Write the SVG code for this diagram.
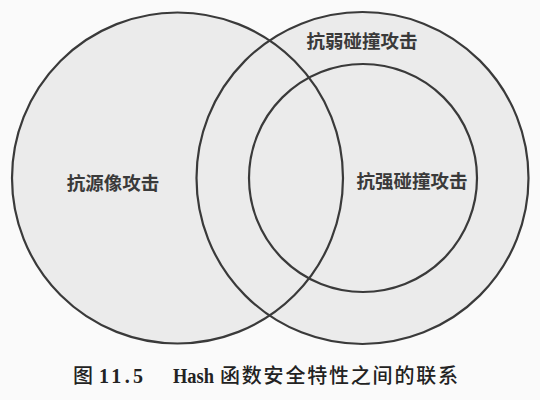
<svg xmlns="http://www.w3.org/2000/svg" width="540" height="400" viewBox="0 0 540 400">
<style>
.ring{fill:none;stroke:#3a3a3a;stroke-width:2.2}
.lbl{font-family:"Noto Sans CJK SC","Noto Sans CJK JP",sans-serif;font-size:18.5px;font-weight:700;fill:#3a3a3a}
.cap{font-family:"Liberation Serif","Noto Sans CJK SC",serif;font-size:20px;fill:#222}
.capz{font-family:"Noto Sans CJK SC","Noto Sans CJK JP",sans-serif;font-size:20px;font-weight:500;fill:#222}
</style>
<rect width="540" height="400" fill="#fafafa"/>
<g id="fills">
<circle cx="177.5" cy="178" r="165.5" fill="#ebebeb"/>
<circle cx="362.5" cy="178" r="166" fill="#ebebeb"/>
</g>
<g id="preimage">
<circle class="ring" cx="177.5" cy="178" r="165.5"/>
<text class="lbl" x="113" y="190" text-anchor="middle">抗源像攻击</text>
</g>
<g id="weak">
<circle class="ring" cx="362.5" cy="178" r="166"/>
<text class="lbl" x="362" y="48" text-anchor="middle">抗弱碰撞攻击</text>
</g>
<g id="strong">
<circle class="ring" cx="363" cy="178" r="114"/>
<text class="lbl" x="412" y="188" text-anchor="middle">抗强碰撞攻击</text>
</g>
<g id="connectors"/>
<g id="caption">
<text class="capz" x="73" y="383">图</text>
<text class="cap" x="99" y="383" textLength="44" lengthAdjust="spacing" font-weight="700">11.5</text>
<text class="cap" x="173" y="383" font-weight="700" textLength="41" lengthAdjust="spacingAndGlyphs">Hash</text>
<text class="capz" x="220" y="383" textLength="238" lengthAdjust="spacing">函数安全特性之间的联系</text>
</g>
</svg>
